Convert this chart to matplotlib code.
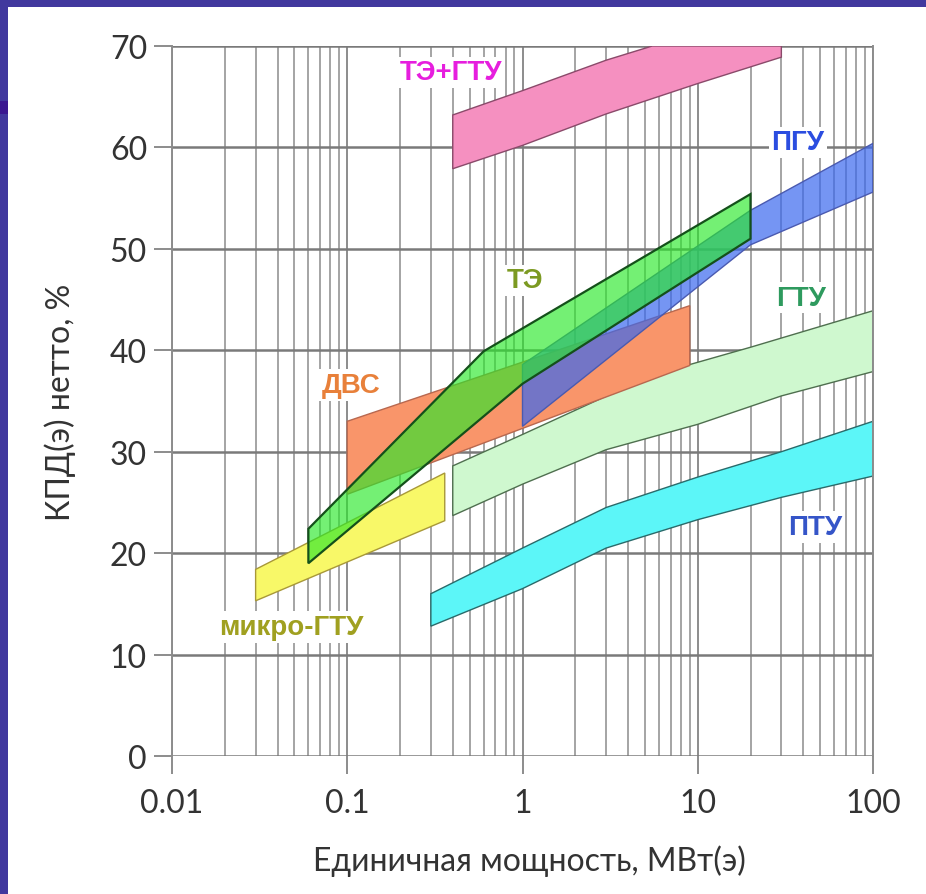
import matplotlib
matplotlib.use("Agg")
import matplotlib.pyplot as plt
from matplotlib.patches import Rectangle
from matplotlib.ticker import LogLocator, NullFormatter, FixedLocator, FixedFormatter


# -----------------------------
# Data
# -----------------------------
TE_GTU_UP_X = [0.4, 1, 3, 5.5, 30]
TE_GTU_UP_Y = [63.2, 65.6, 68.6, 70, 70]
TE_GTU_LO_X = [0.4, 1, 3, 10, 30]
TE_GTU_LO_Y = [57.9, 60.2, 63.3, 66.3, 68.9]

PGU_X = [1, 20, 100]
PGU_UP_Y = [38.6, 53.8, 60.4]
PGU_LO_Y = [32.5, 50.4, 55.6]

DVS_X = [0.1, 9]
DVS_UP_Y = [33.0, 44.4]
DVS_LO_Y = [25.8, 38.5]

TE_UP_X = [0.06, 0.6, 20]
TE_UP_Y = [22.4, 39.9, 55.4]
TE_LO_X = [0.06, 1, 20]
TE_LO_Y = [19.0, 36.7, 51.0]

MICRO_X = [0.03, 0.36]
MICRO_UP_Y = [18.4, 27.9]
MICRO_LO_Y = [15.3, 23.2]

GTU_UP_X = [0.4, 1, 5.4, 20, 100]
GTU_UP_Y = [28.6, 31.7, 37.5, 40.3, 43.9]
GTU_LO_X = [0.4, 1, 3, 10, 30, 100]
GTU_LO_Y = [23.7, 26.8, 30.2, 32.7, 35.5, 37.9]

PTU_X = [0.3, 1, 3, 10, 30, 100]
PTU_UP_Y = [16.0, 20.5, 24.5, 27.5, 30.0, 33.0]
PTU_LO_Y = [12.8, 16.5, 20.5, 23.3, 25.5, 27.6]

X_TICKS = [0.01, 0.1, 1, 10, 100]
X_TICK_LABELS = ["0.01", "0.1", "1", "10", "100"]
Y_TICKS = [0, 10, 20, 30, 40, 50, 60, 70]

LABELS = ["ТЭ+ГТУ", "ПГУ", "ТЭ", "ГТУ", "ДВС", "ПТУ", "микро-ГТУ"]
LABEL_X = [0.39, 37.3, 1.03, 38.8, 0.105, 46.7, 0.0477]
LABEL_Y = [67.4, 60.5, 46.9, 45.2, 36.6, 22.6, 12.7]
LABEL_COLORS = ["#e61ede", "#2b4de0", "#7c9a22", "#2e9a5e", "#e8803a", "#3555c8", "#a0a020"]


# -----------------------------
# Theme
# -----------------------------
FRAME = "#41389e"
GRID = "#8c8c8c"
TEXT = "#333333"
FONT = ["Lato", "Open Sans", "DejaVu Sans"]
BOLD_FONT = ["Liberation Sans", "DejaVu Sans"]


def band(ax, up_x, up_y, lo_x, lo_y, face, edge, alpha=1.0, lw=1.0, z=2):
    xs = list(up_x) + list(lo_x)[::-1]
    ys = list(up_y) + list(lo_y)[::-1]
    ax.fill(xs, ys, facecolor=face, edgecolor="none", alpha=alpha, zorder=z)
    ax.fill(xs, ys, facecolor="none", edgecolor=edge, linewidth=lw, zorder=z + 0.1)


fig = plt.figure(figsize=(9.26, 8.95), dpi=100)
fig.patch.set_facecolor("white")

# purple slide frame (left and top)
fig.add_artist(Rectangle((0, 0), 8 / 926, 1, transform=fig.transFigure,
                         facecolor=FRAME, edgecolor="none"))
fig.add_artist(Rectangle((0, 1 - 8 / 895), 1, 8 / 895, transform=fig.transFigure,
                         facecolor=FRAME, edgecolor="none"))
fig.add_artist(Rectangle((0, 1 - 115 / 895), 8 / 926, 13 / 895, transform=fig.transFigure,
                         facecolor="#3a1790", edgecolor="none"))

ax = fig.add_axes([172 / 926, 1 - 757 / 895, 701 / 926, 710 / 895])
ax.set_xscale("log")
ax.set_xlim(0.01, 100)
ax.set_ylim(0, 70)

# grid
ax.xaxis.set_major_locator(FixedLocator(X_TICKS))
ax.xaxis.set_major_formatter(FixedFormatter(X_TICK_LABELS))
ax.xaxis.set_minor_locator(LogLocator(base=10, subs=range(2, 10), numticks=20))
ax.xaxis.set_minor_formatter(NullFormatter())
ax.set_yticks(Y_TICKS)
ax.grid(which="major", axis="x", color=GRID, linewidth=1.4)
ax.grid(which="minor", axis="x", color=GRID, linewidth=1.1)
ax.grid(which="major", axis="y", color="#7a7a7a", linewidth=1.8)
ax.set_axisbelow(True)
for side in ["top", "bottom"]:
    ax.spines[side].set_visible(False)
for side in ["left", "right"]:
    ax.spines[side].set_color(GRID)
    ax.spines[side].set_linewidth(1.4)

ax.tick_params(axis="x", which="major", length=13, width=1.4, color=GRID, pad=10,
               labelsize=23, labelcolor=TEXT)
ax.tick_params(axis="x", which="minor", length=0)
ax.tick_params(axis="y", which="major", length=13, width=1.4, color=GRID, pad=5,
               labelsize=23, labelcolor=TEXT)
for lab in ax.get_xticklabels() + ax.get_yticklabels():
    lab.set_family(FONT)

# bands
band(ax, TE_GTU_UP_X, TE_GTU_UP_Y, TE_GTU_LO_X, TE_GTU_LO_Y, "#f590c0", "#8a4a6a", z=2)
band(ax, GTU_UP_X, GTU_UP_Y, GTU_LO_X, GTU_LO_Y, "#cff8cf", "#4f6f4f", z=2)
band(ax, PTU_X, PTU_UP_Y, PTU_X, PTU_LO_Y, "#5cf6f8", "#2a6a6a", z=2)
band(ax, MICRO_X, MICRO_UP_Y, MICRO_X, MICRO_LO_Y, "#f8f868", "#a89838", z=2)
band(ax, DVS_X, DVS_UP_Y, DVS_X, DVS_LO_Y, "#f9956a", "#b8684f", z=3)
band(ax, PGU_X, PGU_UP_Y, PGU_X, PGU_LO_Y, "#3a68ee", "#4a5ab0", alpha=0.7, z=4)
band(ax, TE_UP_X, TE_UP_Y, TE_LO_X, TE_LO_Y, "#2ae82a", "#14501a", alpha=0.65, lw=1.6, z=5)

# labels
for text, x, y, c in zip(LABELS, LABEL_X, LABEL_Y, LABEL_COLORS):
    ax.text(x, y, text, color=c, fontsize=20, fontweight="bold", family=BOLD_FONT,
            ha="center", va="center", zorder=6,
            bbox=dict(facecolor="white", edgecolor="none", pad=2))

ax.set_xlabel("Единичная мощность, МВт(э)", fontsize=23, color=TEXT, family=FONT)
ax.set_ylabel("КПД(э) нетто, %", fontsize=23, color=TEXT, family=FONT)
ax.xaxis.set_label_coords(0.51, -0.124)
ax.yaxis.set_label_coords(-0.137, 0.5)

fig.savefig("out.png", dpi=100, facecolor="white")
